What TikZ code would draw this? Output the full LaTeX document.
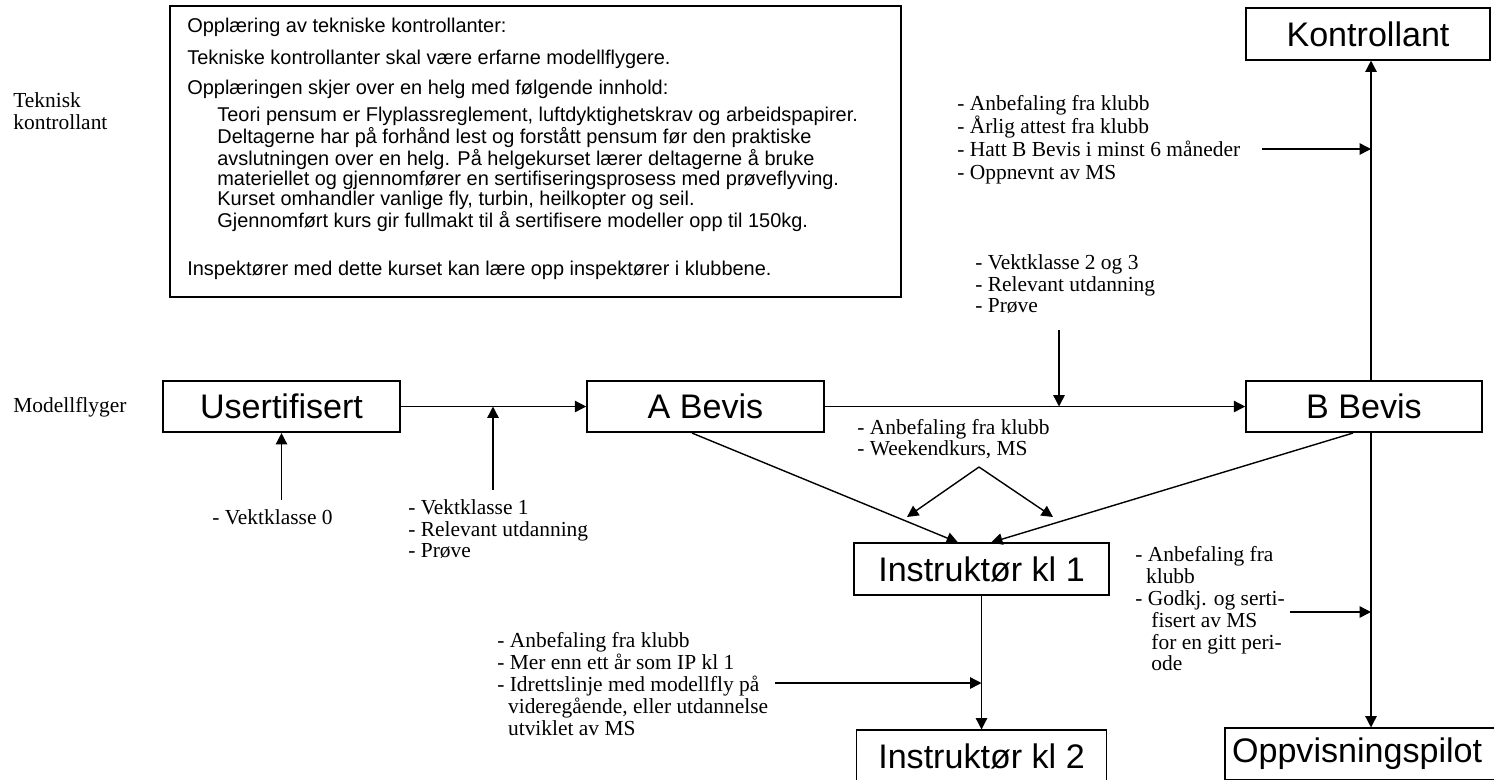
\documentclass[tikz,border=0pt]{standalone}
\usepackage{fontspec}
\setmainfont{Liberation Serif}
\setsansfont{Liberation Sans}
\usetikzlibrary{arrows.meta}

\begin{document}
\begin{tikzpicture}[
    x=0.02cm, y=-0.02cm,
    block/.style={
        draw, line width=0.9pt, minimum height=1.03cm, inner sep=0pt,
        font=\sffamily\fontsize{19.4}{21}\selectfont,
    },
    arr/.style={-{Triangle[length=6.5pt, width=6.5pt]}, line width=0.8pt},
    note/.style={inner sep=0pt, anchor=west, align=left,
        font=\fontsize{12.2}{12.4}\selectfont},
    info/.style={inner sep=0pt, anchor=west, align=left,
        font=\sffamily\fontsize{11.35}{11.4}\selectfont},
]
\useasboundingbox (0,0) rectangle (1494,779);
\clip (0,0) rectangle (1494,779);

% ── Row labels ──
\node[note] (tklabel) at (13,111) {Teknisk\\kontrollant};
\node[note] (mflabel) at (13,407) {Modellflyger};

% ── Course description box ──
\node[draw, line width=0.9pt, minimum width=14.62cm, minimum height=5.82cm, inner sep=0pt]
    (course) at (535.5,151.5) {};
\node[info] (c1) at (187,27) {Opplæring av tekniske kontrollanter:};
\node[info] (c2) at (187,59) {Tekniske kontrollanter skal være erfarne modellflygere.};
\node[info] (c3) at (187,89) {Opplæringen skjer over en helg med følgende innhold:};
\node[info] (c4) at (217,169) {Teori pensum er Flyplassreglement, luftdyktighetskrav og arbeidspapirer.\\
    Deltagerne har på forhånd lest og forstått pensum før den praktiske\\
    avslutningen over en helg. På helgekurset lærer deltagerne å bruke\\
    materiellet og gjennomfører en sertifiseringsprosess med prøveflyving.\\
    Kurset omhandler vanlige fly, turbin, heilkopter og seil.\\
    Gjennomført kurs gir fullmakt til å sertifisere modeller opp til 150kg.};
\node[info] (c5) at (187,270) {Inspektører med dette kurset kan lære opp inspektører i klubbene.};

% ── Certificate blocks ──
\node[block, minimum width=4.74cm] (usert) at (281.5,406.5) {Usertifisert};
\node[block, minimum width=4.74cm] (abevis) at (705.5,406.5) {A Bevis};
\node[block, minimum width=4.72cm] (bbevis) at (1364,406.5) {B Bevis};
\node[block, minimum width=4.88cm] (kontr) at (1368,34) {Kontrollant};
\node[block, minimum width=5.1cm] (instr1) at (981.5,569) {Instruktør kl 1};
\node[block, minimum width=5.0cm] (instr2) at (981.5,756) {Instruktør kl 2};
\node[block, inner xsep=0.14cm, text width=5.5cm, align=left] (oppv) at (1369.5,754) {Oppvisningspilot};

% ── Requirements ──
\node[note] (req0) at (212,517) {- Vektklasse 0};
\node[note] (req1) at (408,529) {- Vektklasse 1\\- Relevant utdanning\\- Prøve};
\node[note] (req2) at (975,284) {- Vektklasse 2 og 3\\- Relevant utdanning\\- Prøve};
\node[note, font=\fontsize{12.2}{13.1}\selectfont] (reqk) at (957,140)
    {- Anbefaling fra klubb\\- Årlig attest fra klubb\\- Hatt B Bevis i minst 6 måneder\\- Oppnevnt av MS};
\node[note] (reqi1) at (857,439) {- Anbefaling fra klubb\\- Weekendkurs, MS};
\node[note] (reqo) at (1135,609) {- Anbefaling fra\\\ \ klubb\\- Godkj. og serti-\\
    \ \ \ fisert av MS\\\ \ \ for en gitt peri-\\\ \ \ ode};
\node[note] (reqi2) at (497,684) {- Anbefaling fra klubb\\- Mer enn ett år som IP kl 1\\
    - Idrettslinje med modellfly på\\\ \ videregående, eller utdannelse\\\ \ utviklet av MS};

% ── Free ends ──
\coordinate (v0) at (281.5,500);
\coordinate (v1) at (493,490);
\coordinate (v2) at (1059,330);
\coordinate (h1) at (1262,149);
\coordinate (h2) at (1290,612);
\coordinate (h3) at (775,683);
\coordinate (apex) at (979,467);
\coordinate (wl) at (907,517);
\coordinate (wr) at (1053,517);
\coordinate (btop) at ([xshift=0.14cm]bbevis.north);
\coordinate (bbot) at ([xshift=0.14cm]bbevis.south);

% ── Main trunk ──
\draw[arr] (usert) -- (abevis);
\draw[arr] (abevis) -- (bbevis);
\draw[arr] (v0) -- (usert.south);
\draw[arr] (v1) -- (v1 |- usert.east);
\draw[arr] (v2) -- (v2 |- abevis.east);

% ── B Bevis branches ──
\draw[arr] (btop) -- (btop |- kontr.south);
\draw[arr] (h1) -- (h1 -| btop);
\draw[arr] (bbot) -- (bbot |- oppv.north);
\draw[arr] (h2) -- (h2 -| bbot);

% ── Instructor path ──
\draw[arr] ([xshift=-0.27cm]abevis.south) -- ([xshift=-0.47cm]instr1.north);
\draw[arr] ([xshift=-0.22cm]bbevis.south) -- ([xshift=0.19cm]instr1.north);
\draw[arr] (apex) -- (wl);
\draw[arr] (apex) -- (wr);
\draw[arr] (instr1.south) -- (instr1.south |- instr2.north);
\draw[arr] (h3) -- (h3 -| instr1.south);

\end{tikzpicture}
\end{document}
